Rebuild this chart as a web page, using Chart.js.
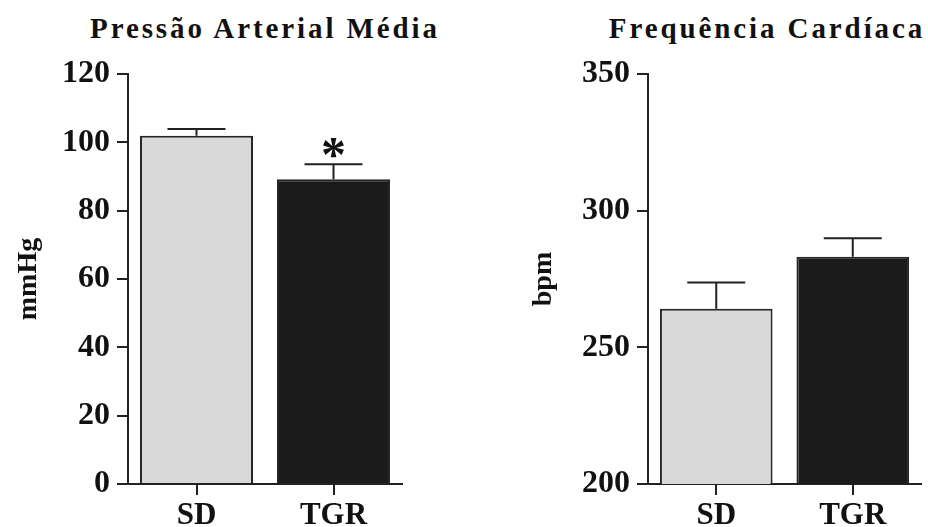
<!DOCTYPE html>
<html>
<head>
<meta charset="utf-8">
<script src="https://cdn.jsdelivr.net/npm/chart.js@4.4.1/dist/chart.umd.min.js"></script>
<style>
    body { margin: 0; background: #fff; }
    #wrap { position: relative; width: 928px; height: 527px; overflow: hidden; }
    .panel { position: absolute; top: 0; width: 464px; height: 527px; }
    .ttl {
        position: absolute; top: 12px; line-height: 1;
        font: bold 29px "Liberation Serif", "Times New Roman", serif;
        letter-spacing: 2.9px; color: #111; white-space: nowrap;
        transform: translateX(-50%);
    }
</style>
</head>
<body>
<div id="wrap">
    <div class="ttl" style="left:265px">Pressão Arterial Média</div>
    <div class="ttl" style="left:767px">Frequência Cardíaca</div>
    <canvas id="pamChart" class="panel" style="left:0" width="464" height="527"></canvas>
    <canvas id="fcChart" class="panel" style="left:464px" width="464" height="527"></canvas>
</div>
<script>
// data
const categories = ['SD', 'TGR'];
const pamMeans = [101.9, 89.2];
const pamErrors = [2.0, 4.4];
const pamMarks = ['', '*'];
const pamTicks = [0, 20, 40, 60, 80, 100, 120];
const fcMeans = [264.1, 283.1];
const fcErrors = [9.6, 6.8];
const fcMarks = ['', ''];
const fcTicks = [200, 250, 300, 350];

const INK = '#222';
const SERIF = "'Liberation Serif', 'Times New Roman', serif";

// upward error bars (+ significance mark) drawn from the bar elements
const errorBars = {
    id: 'errorBars',
    afterDatasetsDraw(chart, args, opts) {
        const { ctx } = chart;
        const y = chart.scales.y;
        const meta = chart.getDatasetMeta(0);
        ctx.save();
        ctx.strokeStyle = INK;
        ctx.lineWidth = 2;
        meta.data.forEach((bar, i) => {
            const top = y.getPixelForValue(opts.means[i] + opts.errors[i]);
            const half = opts.capWidth / 2;
            ctx.beginPath();
            ctx.moveTo(bar.x, bar.y);
            ctx.lineTo(bar.x, top);
            ctx.moveTo(bar.x - half, top);
            ctx.lineTo(bar.x + half, top);
            ctx.stroke();
            if (opts.marks[i]) {
                ctx.fillStyle = '#111';
                ctx.font = 'bold 50px ' + SERIF;
                ctx.textAlign = 'center';
                ctx.textBaseline = 'alphabetic';
                ctx.fillText(opts.marks[i], bar.x, top + 7);
            }
        });
        ctx.restore();
    }
};

function makeChart(id, means, errors, marks, ticks, yTitle, axisWidth, titlePad, rightPad) {
    return new Chart(document.getElementById(id), {
        type: 'bar',
        data: {
            labels: categories,
            datasets: [{
                data: means,
                backgroundColor: ['#d9d9d9', '#1b1b1b'],
                borderColor: '#262626',
                borderWidth: 2,
                barPercentage: 0.825,
                categoryPercentage: 1
            }]
        },
        options: {
            responsive: false,
            animation: false,
            devicePixelRatio: 1,
            layout: { padding: { top: 74, right: rightPad, left: 0, bottom: 0 } },
            plugins: {
                legend: { display: false },
                tooltip: { enabled: false },
                errorBars: { means: means, errors: errors, marks: marks, capWidth: 58 }
            },
            scales: {
                x: {
                    afterFit: s => { s.height = 43; },
                    grid: { offset: false, drawOnChartArea: false, tickLength: 11, tickColor: INK, lineWidth: 2 },
                    border: { color: INK, width: 2 },
                    ticks: { color: '#111', padding: 2, font: { family: SERIF, size: 31, weight: 'bold' } }
                },
                y: {
                    min: ticks[0],
                    max: ticks[ticks.length - 1],
                    afterBuildTicks: s => { s.ticks = ticks.map(v => ({ value: v })); },
                    afterFit: s => { s.width = axisWidth; },
                    grid: { drawOnChartArea: false, tickLength: 11, tickColor: INK, lineWidth: 2 },
                    border: { color: INK, width: 2 },
                    ticks: { color: '#111', padding: 7, font: { family: SERIF, size: 32, weight: 'bold' } },
                    title: {
                        display: true, text: yTitle, color: '#111',
                        font: { family: SERIF, size: 28, weight: 'bold' },
                        padding: { top: titlePad, bottom: 0 }
                    }
                }
            }
        },
        plugins: [errorBars]
    });
}

makeChart('pamChart', pamMeans, pamErrors, pamMarks, pamTicks, 'mmHg', 128, 12, 62);
makeChart('fcChart', fcMeans, fcErrors, fcMarks, fcTicks, 'bpm', 184, 63, 7);
</script>
</body>
</html>
